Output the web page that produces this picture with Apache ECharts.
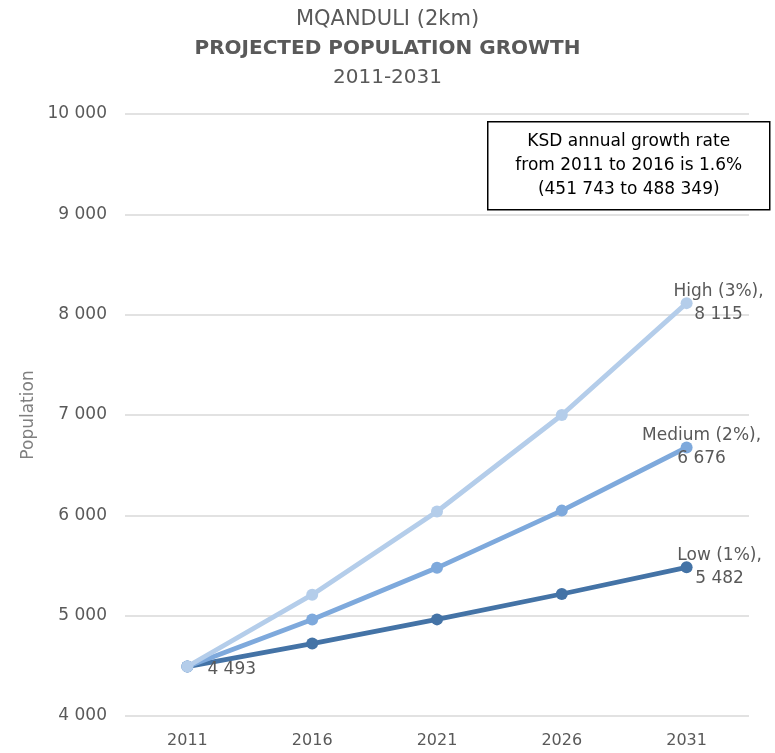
<!DOCTYPE html>
<html>
<head>
<meta charset="utf-8">
<script src="https://cdn.jsdelivr.net/npm/echarts@6/dist/echarts.min.js"></script>
<style>
  html, body { margin: 0; padding: 0; background: #fff; }
  #chart { width: 775px; height: 753px; }
</style>
</head>
<body>
<div id="chart"></div>
<script>
// Projected population of Mqanduli (2km), three growth scenarios
const years = ['2011', '2016', '2021', '2026', '2031'];
const lowGrowth = [4493, 4722, 4963, 5216, 5482];
const mediumGrowth = [4493, 4961, 5477, 6047, 6676];
const highGrowth = [4493, 5209, 6038, 7000, 8115];
const scenarioNames = ['Low (1%)', 'Medium (2%)', 'High (3%)'];
const noteLines = ['KSD annual growth rate', 'from 2011 to 2016 is 1.6%', '(451 743 to 488 349)'];

const FONT = 'DejaVu Sans';
const GREY = '#595959';

function spaced(n) {
  return String(Math.round(n)).replace(/\B(?=(\d{3})+(?!\d))/g, ' ');
}

function makeSeries(name, data, color, offsetX, z, showStart) {
  const last = data.length - 1;
  const items = data.map(function (v, i) {
    if (i === last) {
      return {
        value: v,
        label: {
          show: true, position: 'inside', offset: [offsetX, 0], align: 'center',
          formatter: name + ',\n' + spaced(v)
        }
      };
    }
    if (i === 0 && showStart) {
      return {
        value: v,
        label: { show: true, position: 'right', distance: 14, offset: [0, 3], formatter: spaced(v) }
      };
    }
    return v;
  });
  return {
    name: name,
    type: 'line',
    data: items,
    z: z,
    symbol: 'circle',
    symbolSize: 12,
    lineStyle: { color: color, width: 4.8 },
    itemStyle: { color: color },
    label: { show: false, color: GREY, fontFamily: FONT, fontSize: 17, lineHeight: 23 },
    emphasis: { disabled: true }
  };
}

const chart = echarts.init(document.getElementById('chart'), null, { renderer: 'canvas' });

chart.setOption({
  animation: false,
  backgroundColor: '#ffffff',
  textStyle: { fontFamily: FONT },
  title: {
    left: 'center',
    top: 0,
    text: '{a|MQANDULI (2km)}\n{b|PROJECTED POPULATION GROWTH}\n{c|2011-2031}',
    textStyle: {
      fontWeight: 'normal',
      rich: {
        a: { fontFamily: FONT, fontSize: 21, fontWeight: 'normal', color: GREY, lineHeight: 29, align: 'center' },
        b: { fontFamily: FONT, fontSize: 20, fontWeight: 'bold', color: GREY, lineHeight: 29, align: 'center' },
        c: { fontFamily: FONT, fontSize: 20, fontWeight: 'normal', color: GREY, lineHeight: 29, align: 'center' }
      }
    }
  },
  grid: { left: 125, top: 114, width: 624, height: 602, containLabel: false },
  xAxis: {
    type: 'category',
    data: years,
    boundaryGap: true,
    axisLine: { show: false },
    axisTick: { show: false },
    axisLabel: { color: GREY, fontFamily: FONT, fontSize: 16, margin: 17 }
  },
  yAxis: {
    type: 'value',
    min: 4000,
    max: 10000,
    interval: 1000,
    name: 'Population',
    nameLocation: 'middle',
    nameGap: 84,
    nameTextStyle: { color: '#7f7f7f', fontFamily: FONT, fontSize: 17 },
    axisLine: { show: false },
    axisTick: { show: false },
    splitLine: { lineStyle: { color: '#d9d9d9', width: 1.5 } },
    axisLabel: {
      color: GREY, fontFamily: FONT, fontSize: 17, margin: 18,
      formatter: function (v) { return spaced(v); }
    }
  },
  graphic: [
    {
      type: 'group',
      left: 487,
      top: 121,
      children: [
        {
          type: 'rect',
          shape: { x: 0, y: 0, width: 282, height: 88 },
          style: { fill: '#ffffff', stroke: '#000000', lineWidth: 1.5 }
        },
        {
          type: 'text',
          x: 141,
          y: 44,
          style: {
            text: noteLines.join('\n'),
            fill: '#000000',
            font: '17px "DejaVu Sans"',
            lineHeight: 24,
            textAlign: 'center',
            textVerticalAlign: 'middle'
          }
        }
      ]
    }
  ],
  series: [
    makeSeries(scenarioNames[0], lowGrowth, '#4473A6', 33, 2, false),
    makeSeries(scenarioNames[1], mediumGrowth, '#7EA9DC', 15, 3, false),
    makeSeries(scenarioNames[2], highGrowth, '#B4CDEA', 32, 4, true)
  ]
});
</script>
</body>
</html>
